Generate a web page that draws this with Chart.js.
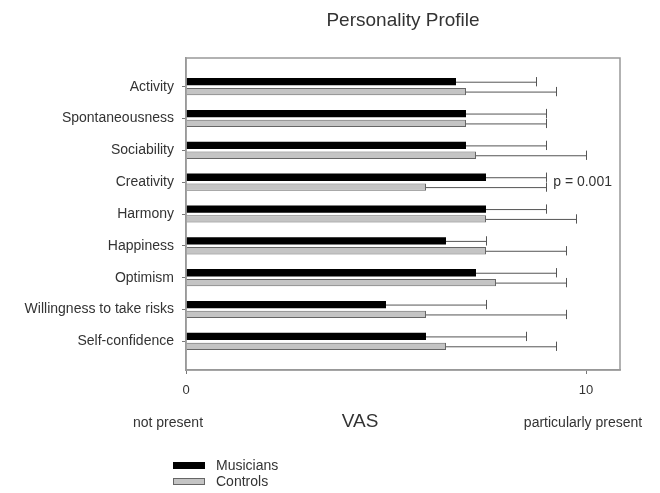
<!DOCTYPE html>
<html>
<head>
<meta charset="utf-8">
<script src="https://cdn.jsdelivr.net/npm/chart.js@4.4.0/dist/chart.umd.min.js"></script>
<style>
  html, body { margin: 0; padding: 0; background: #fff; }
</style>
</head>
<body>
<canvas id="myChart" width="660" height="493"></canvas>
<script>
// categories, top to bottom
const categories = ["Activity", "Spontaneousness", "Sociability", "Creativity", "Harmony",
  "Happiness", "Optimism", "Willingness to take risks", "Self-confidence"];

const musicians = [6.75, 7, 7, 7.5, 7.5, 6.5, 7.25, 5, 6];
const musiciansErr = [2, 2, 2, 1.5, 1.5, 1, 2, 2.5, 2.5];
const controls = [7, 7, 7.25, 6, 7.5, 7.5, 7.75, 6, 6.5];
const controlsErr = [2.25, 2, 2.75, 3, 2.25, 2, 1.75, 3.5, 2.75];

const xTicks = [0, 10];
const pNote = { category: 3, x: 9.18, text: "p = 0.001" };

const FONT = "'Liberation Sans', Arial, sans-serif";
const TEXT = "#333";
const FRAME = "#999";

function toPoints(vals) {
  return vals.map((v, i) => ({ x: v, y: i }));
}

const errors = [musiciansErr, controlsErr];

// error bars + frame + extra texts
const extras = {
  id: "extras",
  afterDatasetsDraw(chart) {
    const ctx = chart.ctx;
    const xs = chart.scales.x;
    ctx.save();
    ctx.strokeStyle = "#555";
    ctx.lineWidth = 1;
    chart.data.datasets.forEach((ds, d) => {
      let meta = chart.getDatasetMeta(d);
      meta.data.forEach((bar, i) => {
        let end = xs.getPixelForValue(ds.data[i].x + errors[d][i]);
        let h = bar.height / 2 + 1;
        ctx.beginPath();
        ctx.moveTo(bar.x, bar.y + 0.5);
        ctx.lineTo(end, bar.y + 0.5);
        ctx.moveTo(Math.round(end) + 0.5, bar.y - h);
        ctx.lineTo(Math.round(end) + 0.5, bar.y + h);
        ctx.stroke();
      });
    });
    ctx.restore();
  },
  afterDraw(chart) {
    const ctx = chart.ctx;
    const a = chart.chartArea;
    const xs = chart.scales.x;
    const ys = chart.scales.y;
    ctx.save();
    // frame
    ctx.strokeStyle = FRAME;
    ctx.lineWidth = 1.5;
    ctx.strokeRect(a.left, a.top, a.right - a.left, a.bottom - a.top);

    ctx.fillStyle = TEXT;
    ctx.textBaseline = "middle";
    // title
    ctx.textAlign = "center";
    ctx.font = "19px " + FONT;
    ctx.fillText("Personality Profile", (a.left + a.right) / 2, 21);

    // p value
    ctx.textAlign = "left";
    ctx.font = "14px " + FONT;
    ctx.fillText(pNote.text, xs.getPixelForValue(pNote.x), ys.getPixelForValue(pNote.category));

    // scale end labels
    ctx.textAlign = "center";
    ctx.font = "14px " + FONT;
    ctx.fillText("not present", xs.getPixelForValue(0) - 18, 423);
    ctx.fillText("particularly present", xs.getPixelForValue(10) - 3, 423);
    ctx.font = "19px " + FONT;
    ctx.fillText("VAS", xs.getPixelForValue(4.35), 422);

    // legend
    ctx.textAlign = "left";
    ctx.font = "14px " + FONT;
    chart.data.datasets.forEach((ds, d) => {
      let y = 462 + d * 16;
      ctx.fillStyle = ds.backgroundColor;
      ctx.fillRect(173, y, 32, 7);
      ctx.strokeStyle = ds.borderColor;
      ctx.lineWidth = 1;
      ctx.strokeRect(173.5, y + 0.5, 31, 6);
      ctx.fillStyle = TEXT;
      ctx.fillText(ds.label, 216, y + 4);
    });
    ctx.restore();
  }
};

const data = {
  datasets: [
    {
      label: "Musicians",
      data: toPoints(musicians),
      backgroundColor: "#000000",
      borderColor: "#000000",
      borderWidth: 0,
      categoryPercentage: 0.62,
      barPercentage: 0.74,
    },
    {
      label: "Controls",
      data: toPoints(controls),
      backgroundColor: "#c4c4c4",
      borderColor: "#666666",
      borderWidth: 1,
      categoryPercentage: 0.62,
      barPercentage: 0.74,
    },
  ],
};

const config = {
  type: "bar",
  data: data,
  options: {
    indexAxis: "y",
    responsive: false,
    animation: false,
    devicePixelRatio: 1,
    layout: { padding: { top: 58, right: 40, bottom: 93, left: 0 } },
    plugins: {
      legend: { display: false },
      tooltip: { enabled: false },
    },
    scales: {
      x: {
        type: "linear",
        min: 0,
        max: 10.85,
        afterBuildTicks: (s) => { s.ticks = xTicks.map((v) => ({ value: v })); },
        afterFit: (s) => { s.height = 30; },
        grid: { drawOnChartArea: false, tickLength: 4, color: "#777" },
        border: { color: FRAME, width: 1.5 },
        ticks: { padding: 9, color: TEXT, font: { family: FONT, size: 13 } },
      },
      y: {
        type: "linear",
        reverse: true,
        offset: false,
        min: -0.9,
        max: 8.9,
        afterBuildTicks: (s) => { s.ticks = categories.map((c, i) => ({ value: i })); },
        afterFit: (s) => { s.width = 186; },
        grid: { offset: false, drawOnChartArea: false, tickLength: 4, color: "#777" },
        border: { color: FRAME, width: 1.5 },
        ticks: {
          padding: 8,
          color: TEXT,
          font: { family: FONT, size: 14 },
          callback: (v) => categories[v],
        },
      },
    },
  },
  plugins: [extras],
};

new Chart(document.getElementById("myChart"), config);
</script>
</body>
</html>
